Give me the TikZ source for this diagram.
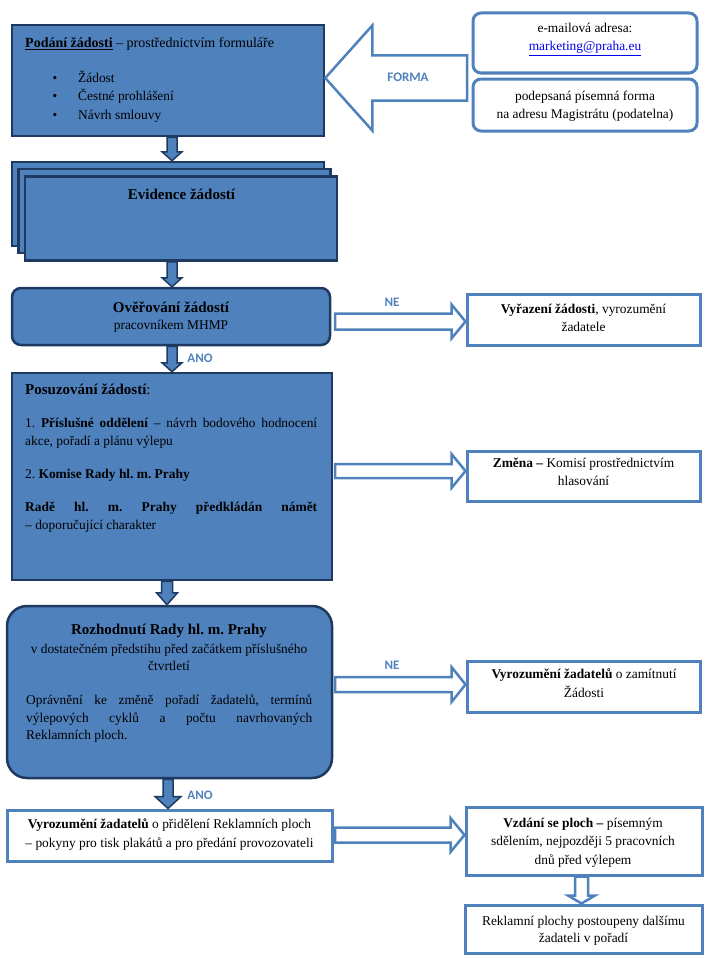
\documentclass[tikz,border=0pt]{standalone}
\usepackage{fontspec}
\setmainfont{Liberation Serif}
\newfontfamily\labfont{Carlito}
\usetikzlibrary{calc}
\definecolor{mainblue}{HTML}{4F81BD}
\definecolor{navy}{HTML}{1F3A60}
\definecolor{linkblue}{HTML}{0000EE}
% vertical block arrow: style, start, end, shaft half, head half, head length
\newcommand\vblock[6]{\draw[#1] let \p1=(#2), \p2=(#3) in ({\x1-#4},\y1) -- ({\x1-#4},{\y2+#6}) -- ({\x1-#5},{\y2+#6}) -- (\x1,\y2) -- ({\x1+#5},{\y2+#6}) -- ({\x1+#4},{\y2+#6}) -- ({\x1+#4},\y1) -- cycle;}
% horizontal block arrow: style, start, end, shaft half, head half, head length (negative = leftwards)
\newcommand\hblock[6]{\draw[#1] let \p1=(#2), \p2=(#3) in (\x1,{\y1+#4}) -- ({\x2-(#6)},{\y1+#4}) -- ({\x2-(#6)},{\y1+#5}) -- (\x2,\y1) -- ({\x2-(#6)},{\y1-#5}) -- ({\x2-(#6)},{\y1-#4}) -- (\x1,{\y1-#4}) -- cycle;}
\begin{document}
\begin{tikzpicture}[x=1pt,y=-1pt,
  darkbox/.style={draw=navy, line width=2.5pt, fill=mainblue, rectangle, inner sep=0pt},
  whitebox/.style={draw=mainblue, line width=3pt, fill=white, rectangle, inner sep=0pt},
  txt/.style={inner sep=0pt, font=\frenchspacing\rmfamily\fontsize{13.4}{17.5}\selectfont},
  head/.style={inner sep=0pt, font=\frenchspacing\rmfamily\bfseries\fontsize{15}{18}\selectfont},
  lab/.style={inner sep=0pt, font=\labfont\bfseries\fontsize{13}{15}\selectfont, text=mainblue},
  downarr/.style={draw=navy, line width=1.5pt, fill=mainblue, line join=miter},
  hollow/.style={draw=mainblue, line width=2.5pt, fill=white, line join=miter}]
\useasboundingbox (0,0) rectangle (710,966);

% ---------- boxes ----------
\node[darkbox, minimum width=312pt, minimum height=111pt] (podani) at (168,80.5) {};
\node[whitebox, rounded corners=8pt, minimum width=224pt, minimum height=60pt] (email) at (585,43) {};
\node[whitebox, rounded corners=8pt, minimum width=224pt, minimum height=52pt] (podep) at (585,105) {};
\node[darkbox, minimum width=312pt, minimum height=84pt] (ev1) at (168,204) {};
\node[darkbox, minimum width=312pt, minimum height=84pt] (ev2) at (174.5,211) {};
\node[darkbox, minimum width=312pt, minimum height=84pt] (ev3) at (181,218.5) {};
\node[darkbox, rounded corners=9pt, minimum width=318pt, minimum height=57pt] (overeni) at (171,316.5) {};
\node[whitebox, minimum width=233pt, minimum height=51pt] (vyraz) at (583.5,319.5) {};
\node[darkbox, minimum width=320pt, minimum height=207pt] (posuz) at (172,476.5) {};
\node[whitebox, minimum width=233pt, minimum height=50pt] (zmena) at (583.5,476) {};
\node[darkbox, rounded corners=20pt, minimum width=325pt, minimum height=172pt] (rozh) at (169.5,692) {};
\node[whitebox, minimum width=233pt, minimum height=51pt] (zamit) at (583.5,686.5) {};
\node[whitebox, minimum width=325pt, minimum height=51pt] (vyroz) at (169.5,835.5) {};
\node[whitebox, minimum width=236pt, minimum height=68pt] (vzdani) at (584,841) {};
\node[whitebox, minimum width=237pt, minimum height=48pt] (rekl) at (583.5,929) {};

% ---------- connectors ----------
\coordinate (sA) at (172,0);
\coordinate (sB) at (167,0);
\coordinate (sC) at (168,0);
\coordinate (sD) at (581.5,0);
\coordinate (formaTail) at (467,78);
\coordinate (ne1) at (335,321.5);
\coordinate (zm) at (335,471);
\coordinate (ne2) at (335,684.5);
\coordinate (vz) at (335,835);

\hblock{hollow}{formaTail}{podani.east}{22.5pt}{52.5pt}{-47pt}
\vblock{downarr}{podani.south -| sA}{ev1.north}{5pt}{10pt}{9pt}
\vblock{downarr}{ev3.south -| sA}{overeni.north}{5pt}{10pt}{9pt}
\vblock{downarr}{overeni.south -| sA}{posuz.north}{5pt}{10pt}{9pt}
\vblock{downarr}{posuz.south -| sB}{rozh.north}{5.5pt}{10.5pt}{12pt}
\vblock{downarr}{rozh.south -| sC}{vyroz.north}{5pt}{13pt}{12pt}
\hblock{hollow}{ne1}{vyraz.west}{8pt}{17pt}{14pt}
\hblock{hollow}{zm}{zmena.west}{7pt}{17pt}{14pt}
\hblock{hollow}{ne2}{zamit.west}{7.5pt}{17.5pt}{14pt}
\hblock{hollow}{vz}{vzdani.west}{7.5pt}{17pt}{14pt}
\vblock{hollow}{vzdani.south -| sD}{rekl.north}{6.5pt}{13.5pt}{8pt}

% ---------- texts ----------
\node[txt, anchor=base west, font=\fontsize{14}{17}\selectfont] (t1) at (25,48) {\underline{\textbf{Podání žádosti}} – prostřednictvím formuláře};
\node[txt, anchor=base] (b1) at (55,82) {•};
\node[txt, anchor=base] (b2) at (55,100.5) {•};
\node[txt, anchor=base] (b3) at (55,119) {•};
\node[txt, anchor=base west] (i1) at (78,82) {Žádost};
\node[txt, anchor=base west] (i2) at (78,100.5) {Čestné prohlášení};
\node[txt, anchor=base west] (i3) at (78,119) {Návrh smlouvy};

\node[txt, anchor=base] (e1) at (585,33) {e-mailová adresa:};
\node[txt, anchor=base, text=linkblue] (e2) at (585,50.5) {\underline{marketing@praha.eu}};
\node[txt, anchor=base] (p1) at (585,100) {podepsaná písemná forma};
\node[txt, anchor=base] (p2) at (585,118) {na adresu Magistrátu (podatelna)};

\node[head, anchor=base] (evt) at (181.5,199.5) {Evidence žádostí};

\node[head, anchor=base] (o1) at (171,312) {Ověřování žádostí};
\node[txt, anchor=base] (o2) at (171,329.5) {pracovníkem MHMP};

\node[txt, anchor=base] (v1) at (583.5,313) {\textbf{Vyřazení žádosti}, vyrozumění};
\node[txt, anchor=base] (v2) at (583.5,331.5) {žadatele};

\node[head, anchor=base west] (s1) at (25,394.5) {Posuzování žádostí\mdseries:};
\node[txt, anchor=base west] (s2) at (25,427) {\makebox[292pt][s]{1. \textbf{Příslušné oddělení} – návrh bodového hodnocení}};
\node[txt, anchor=base west] (s3) at (25,445) {akce, pořadí a plánu výlepu};
\node[txt, anchor=base west] (s4) at (25,478) {2. \textbf{Komise Rady hl. m. Prahy}};
\node[txt, anchor=base west] (s5) at (25,511.5) {\makebox[292pt][s]{\textbf{Radě hl. m. Prahy předkládán námět}}};
\node[txt, anchor=base west] (s6) at (25,529) {– doporučující charakter};

\node[txt, anchor=base] (z1) at (583.5,467) {\textbf{Změna –} Komisí prostřednictvím};
\node[txt, anchor=base] (z2) at (583.5,485) {hlasování};

\node[head, anchor=base] (r1) at (169,634.5) {Rozhodnutí Rady hl. m. Prahy};
\node[txt, anchor=base] (r2) at (169,653) {v dostatečném předstihu před začátkem příslušného};
\node[txt, anchor=base] (r3) at (169,670.5) {čtvrtletí};
\node[txt, anchor=base west] (r4) at (26,704) {\makebox[286pt][s]{Oprávnění ke změně pořadí žadatelů, termínů}};
\node[txt, anchor=base west] (r5) at (26,722) {\makebox[286pt][s]{výlepových cyklů a počtu navrhovaných}};
\node[txt, anchor=base west] (r6) at (26,739.5) {Reklamních ploch.};

\node[txt, anchor=base] (m1) at (584,678) {\textbf{Vyrozumění žadatelů} o zamítnutí};
\node[txt, anchor=base] (m2) at (584,697) {Žádosti};

\node[txt, anchor=base] (y1) at (169.5,828) {\textbf{Vyrozumění žadatelů} o přidělení Reklamních ploch};
\node[txt, anchor=base] (y2) at (169.5,847) {– pokyny pro tisk plakátů a pro předání provozovateli};

\node[txt, anchor=base] (d1) at (583,827) {\textbf{Vzdání se ploch –} písemným};
\node[txt, anchor=base] (d2) at (583,845.5) {sdělením, nejpozději 5 pracovních};
\node[txt, anchor=base] (d3) at (583,864) {dnů před výlepem};

\node[txt, anchor=base] (k1) at (583.5,925) {Reklamní plochy postoupeny dalšímu};
\node[txt, anchor=base] (k2) at (583.5,942) {žadateli v pořadí};

% ---------- labels ----------
\node[lab] (lforma) at (408,77) {FORMA};
\node[lab] (lne1) at (392,302) {NE};
\node[lab] (lne2) at (392,665) {NE};
\node[lab] (lano1) at (200,358) {ANO};
\node[lab] (lano2) at (200,795) {ANO};
\end{tikzpicture}
\end{document}
